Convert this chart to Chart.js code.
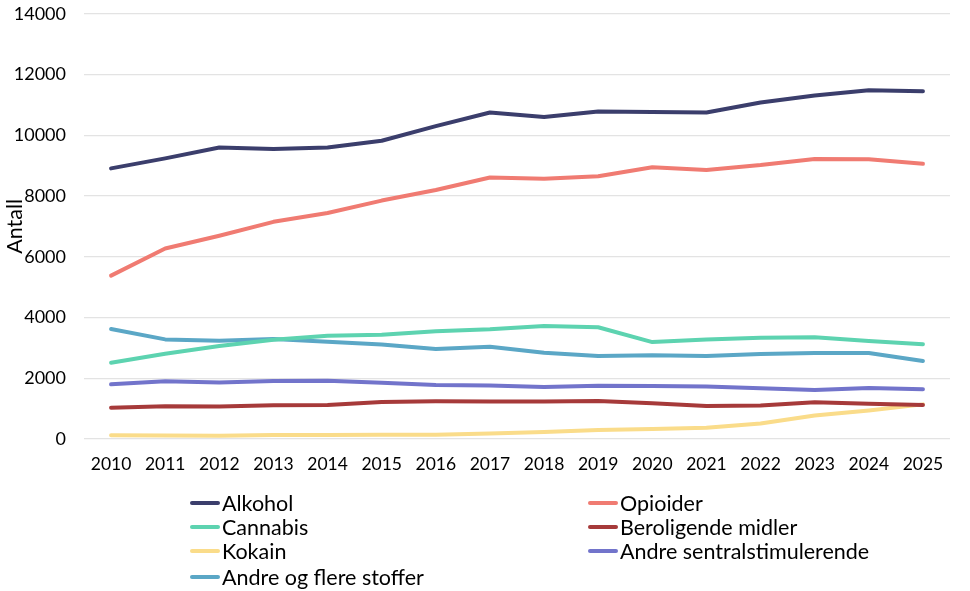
<!DOCTYPE html>
<html>
<head>
<meta charset="utf-8">
<script src="https://cdn.jsdelivr.net/npm/chart.js@4"></script>
<style>
html,body{margin:0;padding:0;background:#fff;}
#wrap{position:relative;width:970px;height:591px;font-family:Lato, "Liberation Sans", sans-serif;overflow:hidden;}
#cbox{position:absolute;left:0;top:-15px;width:970px;height:495px;}
#legend{position:absolute;left:0;top:0;width:970px;height:591px;pointer-events:none;}
.li{position:absolute;display:flex;align-items:center;font-size:21.5px;color:#000;white-space:nowrap;height:24px;}
.sw{width:30px;height:4px;border-radius:2px;margin-right:2px;}
</style>
</head>
<body>
<div id="wrap">
<div id="cbox"><canvas id="c"></canvas></div>
<div id="legend"></div>
</div>
<script>
const years = ["2010","2011","2012","2013","2014","2015","2016","2017","2018","2019","2020","2021","2022","2023","2024","2025"];
const yTicks = [0,2000,4000,6000,8000,10000,12000,14000];
const seriesNames = ["Alkohol","Opioider","Cannabis","Beroligende midler","Kokain","Andre sentralstimulerende","Andre og flere stoffer"];
const alkohol = [8910,9240,9600,9550,9600,9820,10300,10750,10600,10780,10770,10750,11080,11310,11480,11450];
const opioider = [5380,6270,6690,7150,7440,7850,8200,8610,8570,8650,8950,8860,9020,9220,9210,9060];
const cannabis = [2510,2810,3060,3270,3400,3430,3550,3610,3720,3680,3190,3280,3330,3350,3230,3120];
const beroligende = [1030,1080,1070,1110,1120,1220,1245,1235,1235,1255,1180,1085,1100,1210,1160,1120];
const kokain = [120,118,108,130,130,140,140,185,230,295,330,370,510,775,940,1140];
const andreSentral = [1800,1905,1860,1910,1920,1850,1780,1760,1715,1755,1745,1725,1670,1615,1680,1640];
const andreFlere = [3620,3280,3235,3290,3200,3115,2960,3040,2840,2735,2755,2730,2800,2830,2830,2570];
const colors = ["#3b3e6c","#f07b72","#5dd3b0","#a63a3a","#fadc8a","#7274cb","#5ba7c6"];
const values = [alkohol,opioider,cannabis,beroligende,kokain,andreSentral,andreFlere];

const datasets = seriesNames.map((n,i)=>({
  label:n, data:values[i], borderColor:colors[i], backgroundColor:colors[i],
  borderWidth:4, pointRadius:0, tension:0, fill:false, borderCapStyle:'round', borderJoinStyle:'round'
}));
new Chart(document.getElementById('c'),{
  type:'line',
  data:{labels:years,datasets:datasets},
  options:{
    responsive:true, maintainAspectRatio:false, animation:false,
    layout:{padding:{top:3,right:20,left:0,bottom:0}},
    plugins:{legend:{display:false},tooltip:{enabled:false}},
    scales:{
      x:{
        offset:true,
        grid:{display:false,drawTicks:false},
        border:{display:false},
        ticks:{padding:15,color:'#000',font:{family:'Lato',size:17.5},maxRotation:0,autoSkip:false},
        afterFit:s=>{s.height=41;}
      },
      y:{
        min:0,max:14000,
        afterBuildTicks:s=>{s.ticks=yTicks.map(v=>({value:v}));},
        grid:{color:'#e3e3e3',lineWidth:1.3,drawTicks:false},
        border:{display:false},
        ticks:{padding:18,color:'#000',font:{family:'Lato',size:18},callback:v=>String(v)},
        title:{display:true,text:'Antall',color:'#000',font:{family:'Lato',size:21.5},padding:{top:2,bottom:0}},
        afterFit:s=>{s.width=84;}
      }
    }
  }
});

const leg = document.getElementById('legend');
const colX = [190,588];
const rowY = [491,515,539,565];
seriesNames.forEach((n,i)=>{
  const d=document.createElement('div');
  d.className='li';
  d.style.left=colX[i%2]+'px';
  d.style.top=rowY[Math.floor(i/2)]+'px';
  d.innerHTML='<span class="sw" style="background:'+colors[i]+'"></span><span>'+n+'</span>';
  leg.appendChild(d);
});
</script>
</body>
</html>
